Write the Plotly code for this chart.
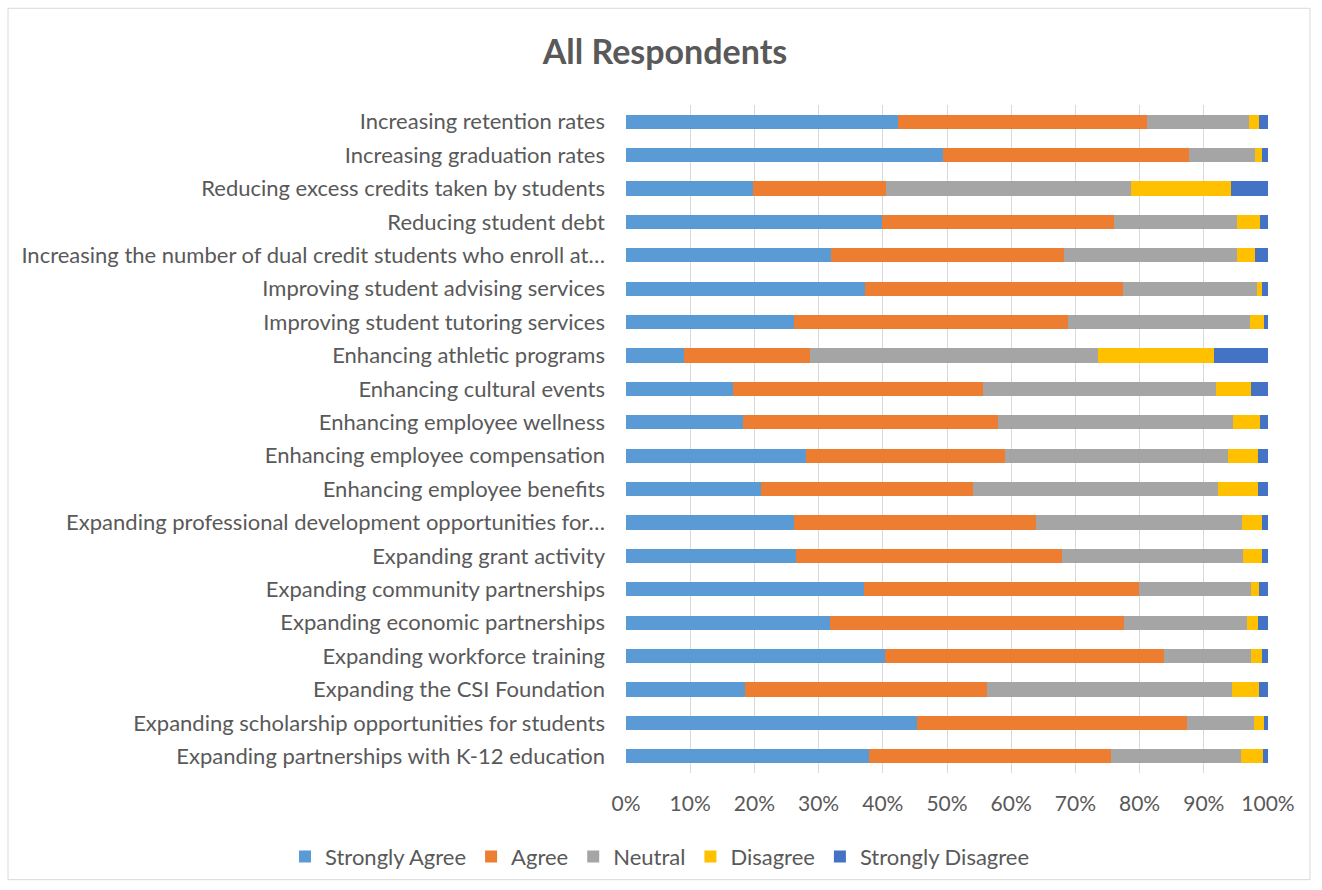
import plotly.graph_objects as go

categories = [
    "Increasing retention rates",
    "Increasing graduation rates",
    "Reducing excess credits taken by students",
    "Reducing student debt",
    "Increasing the number of dual credit students who enroll at…",
    "Improving student advising services",
    "Improving student tutoring services",
    "Enhancing athletic programs",
    "Enhancing cultural events",
    "Enhancing employee wellness",
    "Enhancing employee compensation",
    "Enhancing employee benefits",
    "Expanding professional development opportunities for…",
    "Expanding grant activity",
    "Expanding community partnerships",
    "Expanding economic partnerships",
    "Expanding workforce training",
    "Expanding the CSI Foundation",
    "Expanding scholarship opportunities for students",
    "Expanding partnerships with K-12 education",
]

strongly_agree = [42.3, 49.4, 19.8, 39.9, 31.9, 37.2, 26.1, 9.0, 16.6, 18.3,
                  28.0, 21.0, 26.1, 26.5, 37.0, 31.8, 40.4, 18.5, 45.4, 37.9]
agree = [38.8, 38.3, 20.7, 36.1, 36.3, 40.2, 42.8, 19.6, 39.0, 39.6,
         31.0, 33.1, 37.7, 41.4, 42.9, 45.7, 43.4, 37.7, 42.0, 37.6]
neutral = [16.0, 10.3, 38.1, 19.2, 27.0, 20.9, 28.3, 44.9, 36.3, 36.7,
           34.7, 38.1, 32.1, 28.2, 17.5, 19.3, 13.5, 38.2, 10.4, 20.3]
disagree = [1.5, 1.0, 15.7, 3.6, 2.8, 0.8, 2.1, 18.1, 5.5, 4.2,
            4.7, 6.3, 3.1, 2.9, 1.2, 1.7, 1.7, 4.2, 1.5, 3.4]
strongly_disagree = [1.4, 1.0, 5.7, 1.2, 2.0, 0.9, 0.7, 8.4, 2.6, 1.2,
                     1.6, 1.5, 1.0, 1.0, 1.4, 1.5, 1.0, 1.4, 0.7, 0.8]

series = [
    ("Strongly Agree", strongly_agree, "#5B9BD5"),
    ("Agree", agree, "#ED7D31"),
    ("Neutral", neutral, "#A5A5A5"),
    ("Disagree", disagree, "#FFC000"),
    ("Strongly Disagree", strongly_disagree, "#4472C4"),
]

FONT = "Lato"
TXT = "#595959"

fig = go.Figure()
for name, vals, col in series:
    fig.add_trace(go.Bar(
        y=categories, x=vals, name=name, orientation="h",
        marker=dict(color=col, line=dict(width=0)),
        width=0.42,
    ))

fig.update_layout(
    barmode="stack",
    barnorm="percent",
    width=1322, height=890,
    margin=dict(l=626, r=54, t=105, b=115),
    paper_bgcolor="white",
    plot_bgcolor="white",
    font=dict(family=FONT, color=TXT, size=22),
    title=dict(text="<b>All Respondents</b>", x=0.503, xref="container",
               y=1 - 52 / 890, yref="container", xanchor="center", yanchor="middle",
               font=dict(size=34, color=TXT, family=FONT)),
    legend=dict(orientation="h", xref="paper", x=(285 - 626) / 642, xanchor="left",
                yref="paper", y=-(859 - 775) / 670, yanchor="middle",
                bgcolor="rgba(0,0,0,0)",
                font=dict(size=22, color=TXT), traceorder="normal"),
    showlegend=True,
    shapes=[dict(type="rect", xref="paper", yref="paper",
                 x0=-618 / 642, x1=(1310 - 626) / 642,
                 y0=-(882 - 775) / 670, y1=1 + (105 - 8) / 670,
                 line=dict(color="#D9D9D9", width=1), fillcolor="rgba(0,0,0,0)",
                 layer="below")],
)
fig.update_xaxes(range=[0, 100], tickvals=list(range(0, 101, 10)),
                 ticktext=[f"{v}%" for v in range(0, 101, 10)],
                 showgrid=True, gridcolor="#D9D9D9", gridwidth=1,
                 zeroline=False, showline=False, ticklabelstandoff=16,
                 tickfont=dict(size=21, color=TXT), fixedrange=True)
fig.update_yaxes(autorange="reversed", showgrid=False, showline=False,
                 ticklabelstandoff=20, tickfont=dict(size=22, color=TXT))

fig.write_html("out.html")
